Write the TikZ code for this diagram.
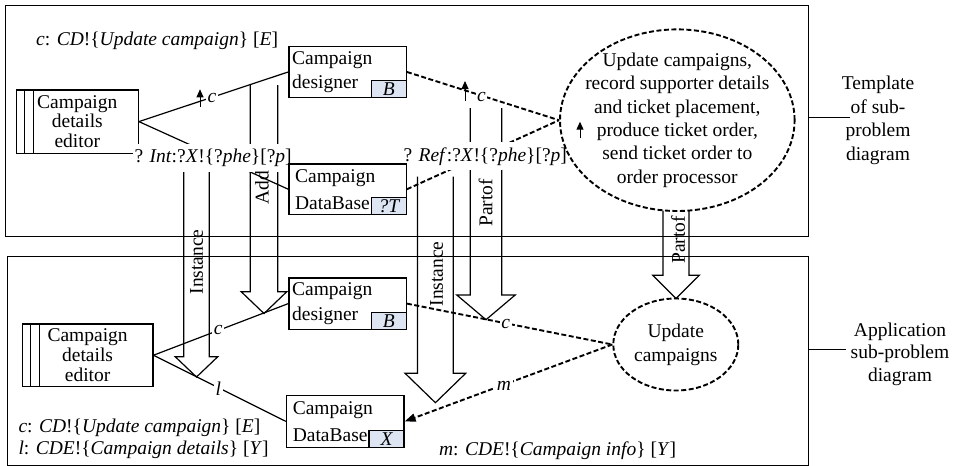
\documentclass[tikz,border=0pt]{standalone}
\usepackage{fontspec}
\setmainfont{Liberation Serif}
\usetikzlibrary{arrows.meta,shapes.geometric}
\pgfdeclarelayer{lines}
\pgfdeclarelayer{tags}
\pgfsetlayers{lines,tags,main}
\definecolor{tagblue}{RGB}{221,228,242}

% hollow block arrow pointing down: x-centre, top y, head-base y, tip y, half shaft, half head
\newcommand{\hollowdown}[6]{%
  \draw[bigarrow] ({#1-#5},#2) -- ({#1-#5},#3) -- ({#1-#6},#3) -- (#1,#4)
    -- ({#1+#6},#3) -- ({#1+#5},#3) -- ({#1+#5},#2);}

\begin{document}
\begin{tikzpicture}[x=1pt,y=-1pt,
  every node/.style={font=\fontsize{19.5}{23.5}\selectfont},
  txt/.style={inner sep=0pt},
  frame/.style={draw, line width=1.2pt, rectangle, anchor=north west, inner sep=0pt},
  editor/.style={draw, line width=1.2pt, rectangle, anchor=north west, inner sep=0pt,
    align=center, font=\fontsize{19.5}{19.7}\selectfont},
  dombox/.style={draw, line width=1.2pt, rectangle, anchor=north west,
    minimum width=117.4pt, minimum height=50.7pt, text width=111pt,
    inner xsep=3.2pt, inner ysep=0pt, align=left, font=\fontsize{19.5}{24.5}\selectfont},
  dbbox/.style={dombox, text width=105pt, font=\fontsize{19.5}{27}\selectfont},
  tag/.style={draw, fill=tagblue, line width=1.2pt, rectangle, anchor=south east,
    minimum width=35pt, minimum height=17pt, inner sep=0pt,
    font=\fontsize{19.5}{20}\selectfont\itshape},
  reqell/.style={draw, ellipse, line width=1.9pt, dash pattern=on 5pt off 2.5pt,
    inner sep=0pt},
  reqtext/.style={inner sep=0pt, align=center},
  solidln/.style={line width=1.2pt},
  dashln/.style={line width=1.9pt, dash pattern=on 5pt off 2.5pt},
  bigarrow/.style={line width=1.2pt, line join=miter},
  uparrow/.style={line width=1pt, -{Triangle[length=8pt,width=7pt]}},
  onlabel/.style={fill=white, inner xsep=1.5pt, inner ysep=1pt},
  phenlabel/.style={fill=white, anchor=base west, inner xsep=2pt, inner ysep=5pt},
  sidelabel/.style={inner sep=0pt, align=center}
]
\useasboundingbox (0,0) rectangle (954,466);

% outer frames
\begin{pgfonlayer}{lines}
\node[frame, minimum width=803pt, minimum height=231pt] (topfr) at (5,5) {};
\node[frame, minimum width=801pt, minimum height=209pt] (botfr) at (7,256) {};
\end{pgfonlayer}

% domains of the template diagram
\node[dombox] (tdes) at (288.3,46) {Campaign\\designer};
\node[tag] (tdesB) at (tdes.south east) {B};
\node[dbbox] (tdb) at (288.3,163.3) {Campaign\\DataBase};
\node[tag] (tdbT) at (tdb.south east) {?T};

% domains of the application diagram
\node[dombox, minimum height=51.4pt] (bdes) at (288.3,277.3) {Campaign\\designer};
\node[tag] (bdesB) at (bdes.south east) {B};
\node[dbbox, minimum height=51.7pt] (bdb) at (286,395) {Campaign\\DataBase};
\node[tag] (bdbX) at (bdb.south east) {X};
\node[editor, minimum width=130.6pt, minimum height=62.7pt] (bed) at (21.7,323.3)
  {Campaign\\details\\editor};

% requirements
\node[reqell, minimum width=234.6pt, minimum height=181.6pt] (treq) at (677.3,120.2) {};
\node[reqtext, font=\fontsize{19.5}{23.3}\selectfont] (treqtxt) at (treq.center)
  {Update campaigns,\\record supporter details\\and ticket placement,\\produce ticket order,\\send ticket order to\\order processor};
\node[reqell, minimum width=125pt, minimum height=92pt] (breq) at (675.8,344.5) {};
\node[reqtext, font=\fontsize{19.5}{24}\selectfont] (breqtxt) at (breq.center)
  {Update\\campaigns};

\begin{pgfonlayer}{lines}
\node[editor, minimum width=122pt, minimum height=63.4pt] (ted) at (15.7,89.3)
  {Campaign\\details\\editor};
% machine stripes
\foreach \e in {ted,bed}{
  \draw[solidln] ([xshift=9pt]\e.north west) -- ([xshift=9pt]\e.south west);
  \draw[solidln] ([xshift=18pt]\e.north west) -- ([xshift=18pt]\e.south west);
}
% interfaces
\draw[solidln] (ted.east) -- (tdes.west);
\draw[solidln] (ted.east) -- (tdb.west);
\draw[dashln] (tdes.east) -- (treq.west);
\draw[dashln] (tdb.east) -- (treq.west);
\draw[solidln] (bed.east) -- (bdes.west);
\draw[solidln] (bed.east) -- (bdb.west);
\draw[dashln] (bdes.east) -- (breq.west);
\draw[dashln, -{Triangle[length=11pt,width=8pt]}] (breq.west) -- (bdb.east);

% block arrows between the diagrams
\hollowdown{264}{85}{291.7}{313.5}{13.75}{22.8}
\hollowdown{196.5}{171}{356.7}{377}{12.8}{21.3}
\hollowdown{435.4}{176.5}{373.3}{402.7}{17.9}{30.3}
\hollowdown{486}{108}{295}{319.7}{15.8}{29.2}
\hollowdown{676}{210.5}{275.3}{298.5}{13}{23.3}

% direction marks
\draw[uparrow] (200,106.7) -- (200,89.3);
\draw[uparrow] (465,100.5) -- (465,81);
\draw[uparrow] (580,138.3) -- (580,121.7);
\end{pgfonlayer}

\begin{pgfonlayer}{tags}
\node[phenlabel] (intlab) at (132.3,162.5)
  {? \textit{Int}:?\textit{X}!\{?\textit{phe}\}[?\textit{p}]};
\node[phenlabel] (reflab) at (401.3,161)
  {? \textit{Ref}:?\textit{X}!\{?\textit{phe}\}[?\textit{p}]};
\node[onlabel] (tc1) at (212,97.5) {\textit{c}};
\node[onlabel] (tc2) at (481.5,96.5) {\textit{c}};
\node[onlabel] (bc1) at (218.3,330) {\textit{c}};
\node[onlabel] (bl1) at (218.3,389) {\textit{l}};
\node[onlabel] (bc2) at (505.8,324.3) {\textit{c}};
\node[onlabel] (bm1) at (504,385.7) {\textit{m}};
\end{pgfonlayer}

% arrow names
\node[txt, rotate=90] (addlab) at (262,188) {Add};
\node[txt, rotate=90] (inst1) at (196.5,262) {Instance};
\node[txt, rotate=90] (inst2) at (436.5,274) {Instance};
\node[txt, rotate=90] (part1) at (485.5,203) {Partof};
\node[txt, rotate=90] (part2) at (678,240) {Partof};

% phenomenon legends
\node[txt, anchor=base west] (tleg) at (36,45)
  {\textit{c}: \textit{CD}!\{\textit{Update campaign}\} [\textit{E}]};
\node[txt, anchor=base west] (bleg1) at (18.3,432)
  {\textit{c}: \textit{CD}!\{\textit{Update campaign}\} [\textit{E}]};
\node[txt, anchor=base west] (bleg2) at (18.3,454)
  {\textit{l}: \textit{CDE}!\{\textit{Campaign details}\} [\textit{Y}]};
\node[txt, anchor=base west] (bleg3) at (438.8,455)
  {\textit{m}: \textit{CDE}!\{\textit{Campaign info}\} [\textit{Y}]};

% side captions
\node[sidelabel, font=\fontsize{19.5}{23.5}\selectfont] (tmpl) at (878,120.5)
  {Template\\of sub-\\problem\\diagram};
\coordinate (tlink) at (850,117.3);
\draw[solidln] (topfr.east |- tlink) -- (tlink);
\node[sidelabel, font=\fontsize{19.5}{22.5}\selectfont] (appl) at (900,354)
  {Application\\sub-problem\\diagram};
\coordinate (alink) at (846,349.3);
\draw[solidln] (botfr.east |- alink) -- (alink);
\end{tikzpicture}
\end{document}
